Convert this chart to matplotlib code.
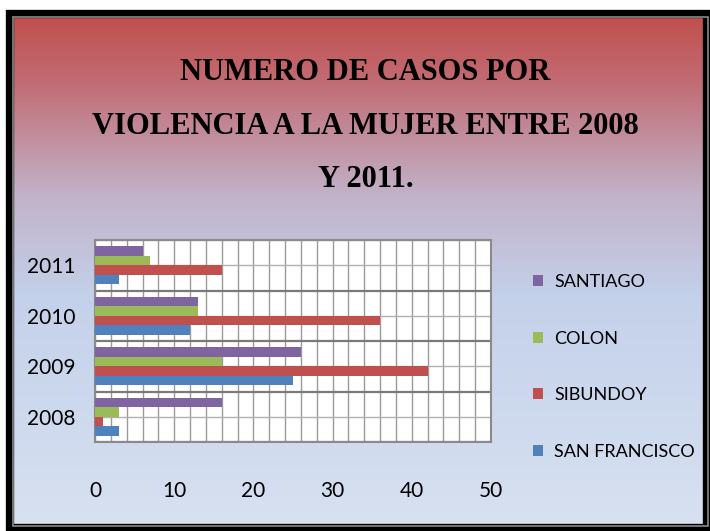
import numpy as np
import matplotlib.pyplot as plt
from matplotlib.colors import LinearSegmentedColormap
from matplotlib.patches import Rectangle

# Datos del gráfico
years = ["2008", "2009", "2010", "2011"]
san_francisco = [3, 25, 12, 3]
sibundoy = [1, 42, 36, 16]
colon = [3, 16, 13, 7]
santiago = [16, 26, 13, 6]

series = ["SAN FRANCISCO", "SIBUNDOY", "COLON", "SANTIAGO"]
colores = ["#4F81BD", "#C0504D", "#9BBB59", "#8064A2"]
valores = [san_francisco, sibundoy, colon, santiago]

W, H = 710, 531
fig = plt.figure(figsize=(W / 100, H / 100), dpi=100)
fig.patch.set_facecolor("white")

# Fondo con degradado (rojo arriba, azul claro abajo)
bg = fig.add_axes([0, 0, 1, 1], zorder=-10)
bg.set_xlim(0, W)
bg.set_ylim(H, 0)
bg.axis("off")
cmap = LinearSegmentedColormap.from_list(
    "fondo",
    [(0.0, "#C0504D"), (0.12, "#C26A72"), (0.35, "#C1B2C9"),
     (0.55, "#C4D1EA"), (1.0, "#D7E1F1")])
grad = np.linspace(0, 1, 256).reshape(-1, 1)
bg.imshow(grad, cmap=cmap, aspect="auto", extent=[12, 708, 526, 17])
bg.add_patch(Rectangle((10, 14), 697, 514, fill=False, ec="black", lw=6))
bg.add_patch(Rectangle((13, 17), 695, 509, fill=False, ec="#8a8a8a", lw=1.2))

# Título
fig.text(0.515, 1 - 126 / H, "NUMERO DE CASOS POR\nVIOLENCIA A LA MUJER ENTRE 2008\nY 2011.",
         ha="center", va="center", fontsize=22, fontweight="bold",
         family="Liberation Serif", linespacing=2.1, color="black")

fuente = ["Lato", "DejaVu Sans"]

# Área del gráfico
ax = fig.add_axes([95 / W, 1 - 442 / H, 396 / W, 202 / H])
ax.set_facecolor("white")
y = np.arange(len(years))
h = 0.19
offsets = [-1.5 * h, -0.5 * h, 0.5 * h, 1.5 * h]
for nombre, vals, col, off in zip(series, valores, colores, offsets):
    ax.barh(y + off, vals, height=h, color=col, label=nombre, zorder=3)

ax.set_xlim(0, 50)
ax.set_ylim(-0.5, 3.5)
ax.set_xticks(np.arange(0, 51, 10))
ax.set_xticks(np.arange(0, 51, 2), minor=True)
ax.set_yticks(y)
ax.set_yticklabels(years)
ax.set_yticks(np.arange(-0.5, 3.6, 1), minor=True)
ax.grid(which="minor", axis="x", color="#9a9a9a", lw=1.0, zorder=0)
ax.grid(which="major", axis="x", color="#9a9a9a", lw=1.0, zorder=0)
ax.grid(which="major", axis="y", color="#b0b0b0", lw=1.0, zorder=0)
ax.grid(which="minor", axis="y", color="#7a7a7a", lw=1.6, zorder=0)
ax.tick_params(which="both", length=0)
ax.tick_params(axis="x", pad=28, labelsize=15)
ax.tick_params(axis="y", pad=14, labelsize=15)
for s in ax.spines.values():
    s.set_color("#8a8a8a")
    s.set_linewidth(1.5)
for lab in ax.get_xticklabels() + ax.get_yticklabels():
    lab.set_family(fuente)

# Leyenda
handles, labels = ax.get_legend_handles_labels()
leg = fig.legend(handles[::-1], labels[::-1], loc="center left",
                 bbox_to_anchor=(517 / W, 1 - 367 / H), frameon=False,
                 prop={"family": fuente, "size": 13},
                 handlelength=0.55, handleheight=0.55, handletextpad=0.6,
                 labelspacing=2.25)

fig.savefig("out.png", dpi=100)
